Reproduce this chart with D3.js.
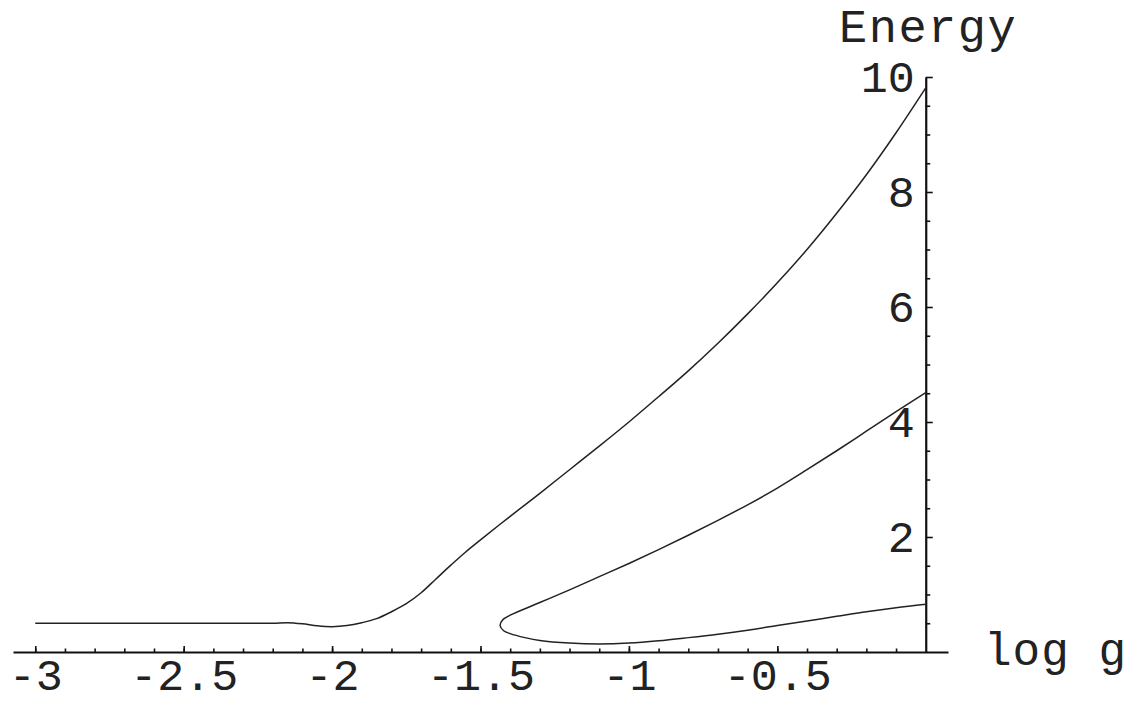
<!DOCTYPE html>
<html>
<head>
<meta charset="utf-8">
<script src="https://cdn.jsdelivr.net/npm/d3@7"></script>
<style>
  html, body { margin: 0; padding: 0; background: #ffffff; }
  svg { display: block; }
  text { font-family: "Liberation Mono", "DejaVu Sans Mono", monospace; fill: #222; }
</style>
</head>
<body>
<svg id="chart" width="1141" height="705"></svg>
<script>
// Ground-state branch: energy vs log g, from log g = -3 up to 0
const branchAG = [-3.0, -2.6, -2.3, -2.2, -2.15, -2.1, -2.05, -2.0, -1.95, -1.9, -1.85, -1.8,
  -1.75, -1.7, -1.65, -1.6, -1.55, -1.5, -1.4, -1.3, -1.2, -1.1, -1.0, -0.9, -0.8, -0.7, -0.6,
  -0.5, -0.4, -0.3, -0.2, -0.1, 0.0];
const branchAE = [0.50, 0.50, 0.50, 0.50, 0.51, 0.49, 0.455, 0.44, 0.46, 0.51, 0.58, 0.70,
  0.84, 1.03, 1.27, 1.51, 1.74, 1.95, 2.36, 2.76, 3.17, 3.58, 4.00, 4.44, 4.89, 5.37, 5.88,
  6.42, 7.00, 7.63, 8.30, 9.03, 9.81];

// Folded branch: upper part from log g = 0 back to the turning point, then the lower part out to 0
const branchBG = [0.0, -0.1, -0.2, -0.3, -0.4, -0.5, -0.6, -0.7, -0.8, -0.9, -1.0, -1.1,
  -1.2, -1.3, -1.4, -1.425, -1.434, -1.422, -1.4, -1.35, -1.3, -1.2, -1.1, -1.0, -0.9,
  -0.8, -0.7, -0.6, -0.5, -0.4, -0.3, -0.2, -0.1, 0.0];
const branchBE = [4.51, 4.18, 3.84, 3.50, 3.17, 2.85, 2.56, 2.29, 2.03, 1.78, 1.54, 1.31,
  1.08, 0.86, 0.64, 0.56, 0.46, 0.37, 0.32, 0.25, 0.20, 0.155, 0.14, 0.155, 0.195,
  0.25, 0.31, 0.38, 0.46, 0.54, 0.62, 0.70, 0.77, 0.83];

// Axis ticks and labels
const xMajorTicks = [-3, -2.5, -2, -1.5, -1, -0.5];
const xTickLabels = ["-3", "-2.5", "-2", "-1.5", "-1", "-0.5"];
const xMinorTicks = [-3, -2.9, -2.8, -2.7, -2.6, -2.5, -2.4, -2.3, -2.2, -2.1, -2, -1.9, -1.8, -1.7,
  -1.6, -1.5, -1.4, -1.3, -1.2, -1.1, -1, -0.9, -0.8, -0.7, -0.6, -0.5, -0.4, -0.3, -0.2, -0.1];
const yMajorTicks = [2, 4, 6, 8, 10];
const yTickLabels = ["2", "4", "6", "8", "10"];
const yMinorTicks = [0.5, 1, 1.5, 2.5, 3, 3.5, 4.5, 5, 5.5, 6.5, 7, 7.5, 8.5, 9, 9.5];
const xAxisTitle = "log g";
const yAxisTitle = "Energy";

const svg = d3.select("#chart");

const x = d3.scaleLinear().domain([-3.075, 0.075]).range([13, 948]);
const y = d3.scaleLinear().domain([0, 10]).range([652, 77]);

const labelFont = 45;

// x axis: minor ticks, then major ticks pointing inward with labels below
svg.append("g")
  .attr("transform", `translate(0,${y(0)})`)
  .call(d3.axisBottom(x).tickValues(xMinorTicks).tickSize(-3.5).tickSizeOuter(0).tickFormat(""))
  .call(g => g.select(".domain").attr("stroke", "#111").attr("stroke-width", 2.2))
  .call(g => g.selectAll(".tick line").attr("stroke", "#111").attr("stroke-width", 1.6));

svg.append("g")
  .attr("transform", `translate(0,${y(0)})`)
  .call(d3.axisBottom(x).tickValues(xMajorTicks).tickSize(-6).tickSizeOuter(0)
    .tickFormat((d, i) => xTickLabels[i]))
  .call(g => g.select(".domain").remove())
  .call(g => g.selectAll(".tick line").attr("stroke", "#111").attr("stroke-width", 1.6))
  .call(g => g.selectAll(".tick text")
    .attr("y", 38).attr("dy", 0)
    .style("font-family", '"Liberation Mono", monospace')
    .style("font-size", labelFont + "px")
    .attr("fill", "#222"));

// y axis: ticks point right into the plot, labels on the left
svg.append("g")
  .attr("transform", `translate(${x(0)},0)`)
  .call(d3.axisRight(y).tickValues(yMinorTicks).tickSize(4.5).tickSizeOuter(0).tickFormat(""))
  .call(g => g.select(".domain").attr("stroke", "#111").attr("stroke-width", 2.2))
  .call(g => g.selectAll(".tick line").attr("stroke", "#111").attr("stroke-width", 1.6));

svg.append("g")
  .attr("transform", `translate(${x(0)},0)`)
  .call(d3.axisRight(y).tickValues(yMajorTicks).tickSize(7).tickSizeOuter(0).tickFormat(""))
  .call(g => g.select(".domain").remove())
  .call(g => g.selectAll(".tick line").attr("stroke", "#111").attr("stroke-width", 1.6));

svg.append("g")
  .attr("transform", `translate(${x(0)},0)`)
  .call(d3.axisLeft(y).tickValues(yMajorTicks).tickSize(0).tickPadding(11)
    .tickFormat((d, i) => yTickLabels[i]))
  .call(g => g.select(".domain").remove())
  .call(g => g.selectAll(".tick text")
    .style("font-family", '"Liberation Mono", monospace')
    .style("font-size", labelFont + "px")
    .attr("fill", "#222"));

// axis titles
svg.append("text")
  .attr("x", 839).attr("y", 42)
  .style("font-size", "47px")
  .style("letter-spacing", "1.5px")
  .text(yAxisTitle);

svg.append("text")
  .attr("x", 984).attr("y", 665)
  .style("font-size", "46px")
  .style("letter-spacing", "1px")
  .text(xAxisTitle);

// curves
const line = d3.line()
  .x(d => x(d[0]))
  .y(d => y(d[1]))
  .curve(d3.curveCatmullRom.alpha(0.5));

const seriesA = branchAG.map((g, i) => [g, branchAE[i]]);
const seriesB = branchBG.map((g, i) => [g, branchBE[i]]);

svg.selectAll("path.branch")
  .data([seriesA, seriesB])
  .enter().append("path")
  .attr("class", "branch")
  .attr("d", line)
  .attr("fill", "none")
  .attr("stroke", "#222")
  .attr("stroke-width", 1.5);
</script>
</body>
</html>
